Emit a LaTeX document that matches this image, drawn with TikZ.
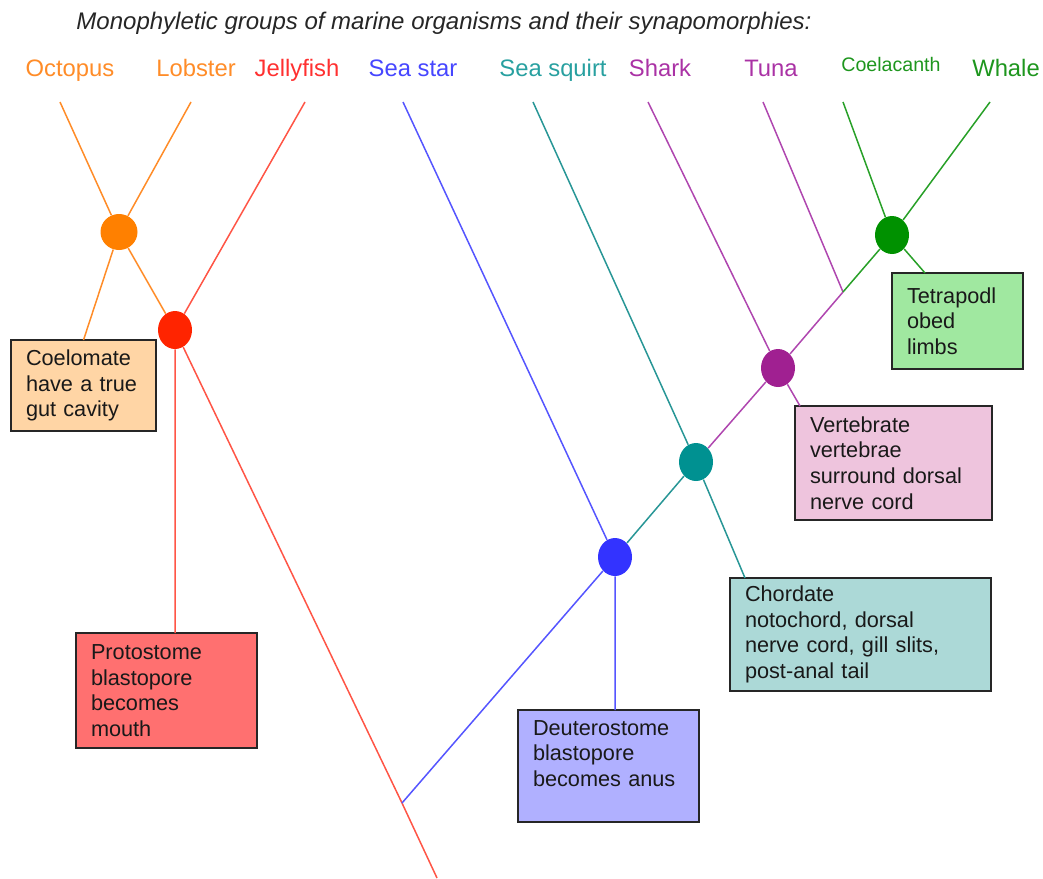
\documentclass[tikz,border=0pt]{standalone}
\usepackage{fontspec}
\setmainfont{Liberation Sans}
\usetikzlibrary{shapes.geometric,calc}
\definecolor{orangeT}{RGB}{255,140,40}
\definecolor{orangeD}{RGB}{255,128,0}
\definecolor{redT}{RGB}{255,48,48}
\definecolor{redL}{RGB}{255,85,70}
\definecolor{redD}{RGB}{255,36,0}
\definecolor{blueT}{RGB}{70,70,255}
\definecolor{blueL}{RGB}{85,85,255}
\definecolor{blueD}{RGB}{51,51,255}
\definecolor{tealT}{RGB}{40,160,160}
\definecolor{tealL}{RGB}{40,150,150}
\definecolor{tealD}{RGB}{0,145,145}
\definecolor{purpT}{RGB}{170,50,165}
\definecolor{purpL}{RGB}{175,70,175}
\definecolor{purpD}{RGB}{160,32,145}
\definecolor{greenT}{RGB}{30,150,30}
\definecolor{greenL}{RGB}{40,160,40}
\definecolor{greenD}{RGB}{0,145,0}
\definecolor{boxPeach}{RGB}{255,213,165}
\definecolor{boxSalmon}{RGB}{255,112,112}
\definecolor{boxLavender}{RGB}{176,176,255}
\definecolor{boxAqua}{RGB}{172,217,215}
\definecolor{boxPink}{RGB}{238,196,221}
\definecolor{boxMint}{RGB}{160,232,160}
\begin{document}
\begin{tikzpicture}[x=0.5pt,y=-0.5pt,
    taxon/.style={anchor=base,font=\fontsize{11.9}{14}\selectfont},
    dot/.style={ellipse,minimum width=17pt,minimum height=19pt,inner sep=0pt},
    trait/.style={draw=black!85,line width=1pt,anchor=north west,align=left,inner xsep=7.5pt,inner ysep=0pt,outer sep=0pt,text=black!90,font=\fontsize{10.85}{12.8}\selectfont},
    branch/.style={line width=0.75pt}]
    \useasboundingbox (0,0) rectangle (1043,878);
    \node[anchor=base,text=black!85,font=\itshape\fontsize{12}{14}\selectfont] (title) at (444,29){Monophyletic groups of marine organisms and their synapomorphies:};
    % taxa
    \node[taxon,text=orangeT] (octopus) at (70,76){Octopus};
    \node[taxon,text=orangeT] (lobster) at (196,76){Lobster};
    \node[taxon,text=redT] (jellyfish) at (297,76){Jellyfish};
    \node[taxon,text=blueT] (seastar) at (413,76){Sea star};
    \node[taxon,text=tealT] (seasquirt) at (553,76){Sea squirt};
    \node[taxon,text=purpT] (shark) at (660,76){Shark};
    \node[taxon,text=purpT] (tuna) at (771,76){Tuna};
    \node[taxon,text=greenT,font=\fontsize{9.8}{12}\selectfont] (coelacanth) at (891,71){Coelacanth};
    \node[taxon,text=greenT] (whale) at (1006,76){Whale};
    % tips and junctions
    \coordinate (octopusT) at (60,102);
    \coordinate (lobsterT) at (191,102);
    \coordinate (jellyfishT) at (305,102);
    \coordinate (seastarT) at (403,102);
    \coordinate (seasquirtT) at (533,102);
    \coordinate (sharkT) at (648,102);
    \coordinate (tunaT) at (763,102);
    \coordinate (coelacanthT) at (843,102);
    \coordinate (whaleT) at (990,102);
    \coordinate (tunaJ) at (843,292);
    \coordinate (root) at (402,803);
    \coordinate (rootEnd) at (437,878);
    % clades
    \node[dot,fill=orangeD,minimum width=18.5pt,minimum height=18pt] (dCoel) at (119,232){};
    \node[dot,fill=redD] (dProto) at (175,330){};
    \node[dot,fill=blueD] (dDeut) at (615,557){};
    \node[dot,fill=tealD] (dChord) at (696,462){};
    \node[dot,fill=purpD] (dVert) at (778,368){};
    \node[dot,fill=greenD] (dTetra) at (892,235){};
    % synapomorphies
    \node[trait,fill=boxPeach,text width=57.5pt,minimum height=45.5pt] (coelomate) at (11,340){Coelomate\\have a true\\gut cavity};
    \node[trait,fill=boxSalmon,text width=75.5pt,minimum height=57.5pt] (protostome) at (76,633){Protostome\\blastopore\\becomes\\mouth};
    \node[trait,fill=boxLavender,text width=75.5pt,minimum height=56pt] (deuterostome) at (518,710){Deuterostome\\blastopore\\becomes anus\\\mbox{}};
    \node[trait,fill=boxAqua,text width=115.5pt,minimum height=56.5pt] (chordate) at (730,578){Chordate\\notochord, dorsal\\nerve cord, gill slits,\\post-anal tail};
    \node[trait,fill=boxPink,text width=83.5pt,minimum height=57pt] (vertebrate) at (795,406){Vertebrate\\vertebrae\\surround dorsal\\nerve cord};
    \node[trait,fill=boxMint,text width=50.5pt,minimum height=48pt] (tetrapod) at (892,273){Tetrapodl\\obed\\limbs};
    % branches
    \draw[branch,orangeT] (octopusT)--(dCoel) (lobsterT)--(dCoel) (dCoel)--(dProto) (dCoel)--(coelomate.north);
    \draw[branch,redL] (jellyfishT)--(dProto) (dProto)--(dProto |- protostome.north) (dProto)--(root) (root)--(rootEnd);
    \draw[branch,blueL] (seastarT)--(dDeut) (dDeut)--(dDeut |- deuterostome.north) (dDeut)--(root);
    \draw[branch,tealL] (seasquirtT)--(dChord) (dChord)--($(chordate.north west)+(15,0)$) (dChord)--(dDeut);
    \draw[branch,purpL] (sharkT)--(dVert) (dVert)--($(vertebrate.north west)+(5,0)$) (dVert)--(dChord) (tunaT)--(tunaJ) (tunaJ)--(dVert);
    \draw[branch,greenL] (coelacanthT)--(dTetra) (whaleT)--(dTetra) (dTetra)--($(tetrapod.north west)+(33,0)$) (dTetra)--(tunaJ);
\end{tikzpicture}
\end{document}
